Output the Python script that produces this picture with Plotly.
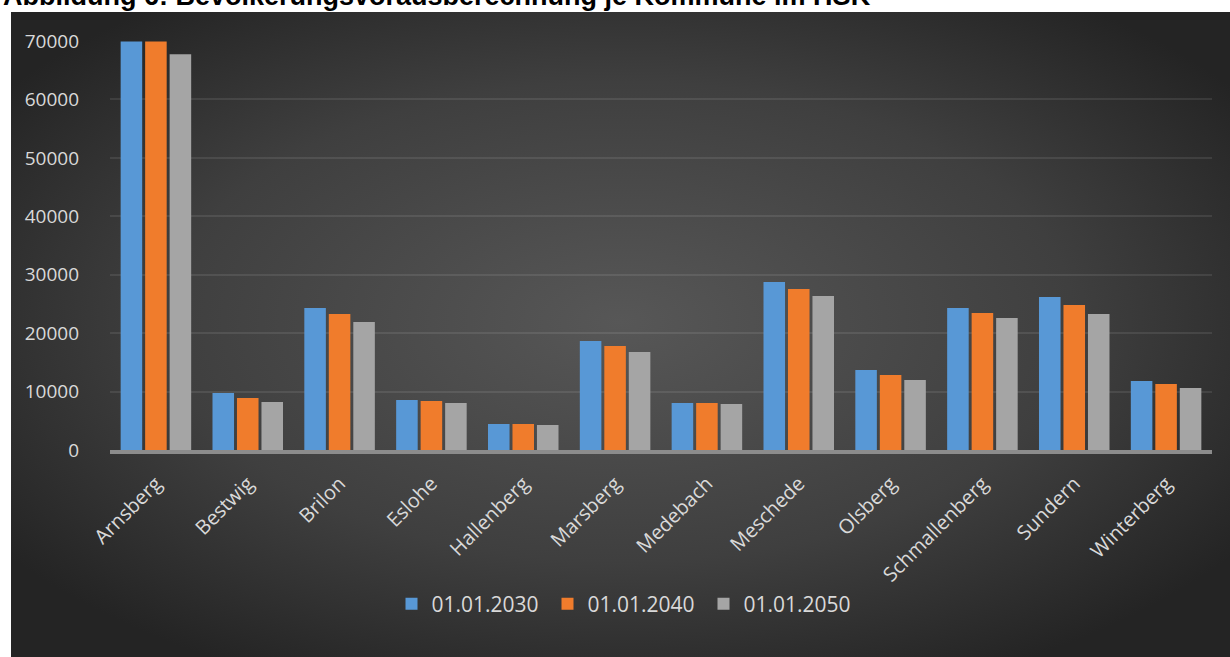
import base64
import plotly.graph_objects as go

categories = ["Arnsberg", "Bestwig", "Brilon", "Eslohe", "Hallenberg", "Marsberg",
              "Medebach", "Meschede", "Olsberg", "Schmallenberg", "Sundern", "Winterberg"]
series_names = ["01.01.2030", "01.01.2040", "01.01.2050"]
values_2030 = [69900, 9750, 24300, 8560, 4450, 18650, 8040, 28750, 13700, 24300, 26190, 11810]
values_2040 = [69900, 8900, 23280, 8390, 4450, 17800, 8040, 27550, 12840, 23450, 24820, 11300]
values_2050 = [67750, 8200, 21900, 8040, 4280, 16770, 7870, 26350, 11980, 22590, 23280, 10610]
y_ticks = [0, 10000, 20000, 30000, 40000, 50000, 60000, 70000]
title_text = "Abbildung 6: Bevölkerungsvorausberechnung je Kommune im HSK"

colors = ["#5898d6", "#f07c2c", "#a5a5a5"]

W, H = 1230, 657
L, R, T, B = 110, 18, 41, 207
pw, ph = W - L - R, H - T - B

def px_x(p):
    return (p - L) / pw

def px_y(p):
    return (H - B - p) / ph

svg = (
    '<svg xmlns="http://www.w3.org/2000/svg" width="1219" height="645" viewBox="0 0 1219 645" preserveAspectRatio="none">'
    '<defs><radialGradient id="g" cx="0.5" cy="0.48" r="0.62">'
    '<stop offset="0" stop-color="#575757"/>'
    '<stop offset="0.6" stop-color="#3f3f3f"/>'
    '<stop offset="1" stop-color="#242424"/>'
    '</radialGradient></defs>'
    '<rect width="1219" height="645" fill="url(#g)"/></svg>'
)
src = "data:image/svg+xml;base64," + base64.b64encode(svg.encode()).decode()

fig = go.Figure()
for name, vals, col in zip(series_names, [values_2030, values_2040, values_2050], colors):
    fig.add_trace(go.Bar(x=categories, y=vals, name=name, marker=dict(color=col, line=dict(width=0))))

fig.update_layout(
    width=W, height=H,
    margin=dict(l=L, r=R, t=T, b=B, autoexpand=False),
    paper_bgcolor="white",
    plot_bgcolor="rgba(0,0,0,0)",
    barmode="group",
    bargap=0.2,
    bargroupgap=0.12,
    showlegend=True,
    legend=dict(orientation="h", x=px_x(625.5), xanchor="center", y=px_y(604), yanchor="middle",
                entrywidth=111, entrywidthmode="pixels",
                font=dict(family="Open Sans", size=21, color="#d9d9d9"),
                bgcolor="rgba(0,0,0,0)"),
    images=[dict(source=src, xref="paper", yref="paper", x=px_x(11), y=px_y(12),
                 sizex=(W - 11) / pw, sizey=(H - 12) / ph, xanchor="left", yanchor="top",
                 sizing="stretch", layer="below")],
    annotations=[dict(text="<b>" + title_text + "</b>", xref="paper", yref="paper",
                      x=px_x(1), y=px_y(13), xanchor="left", yanchor="bottom", showarrow=False,
                      font=dict(family="Liberation Sans", size=27, color="black"))],
    xaxis=dict(showgrid=False, showline=True, linecolor="#8c8c8c", linewidth=4,
               tickangle=-45, ticks="", ticklabelstandoff=10,
               tickfont=dict(family="Open Sans", size=20, color="#d9d9d9")),
    yaxis=dict(range=[0, 70000], tickvals=y_ticks, tickformat="d", showgrid=True,
               gridcolor="rgba(255,255,255,0.09)", gridwidth=2, zeroline=False,
               showline=False, ticks="", ticklabelstandoff=30,
               tickfont=dict(family="Open Sans", size=19, color="#d9d9d9")),
)

fig.write_html("out.html", config={"displayModeBar": False},
               post_script="document.body.style.margin='0';")
